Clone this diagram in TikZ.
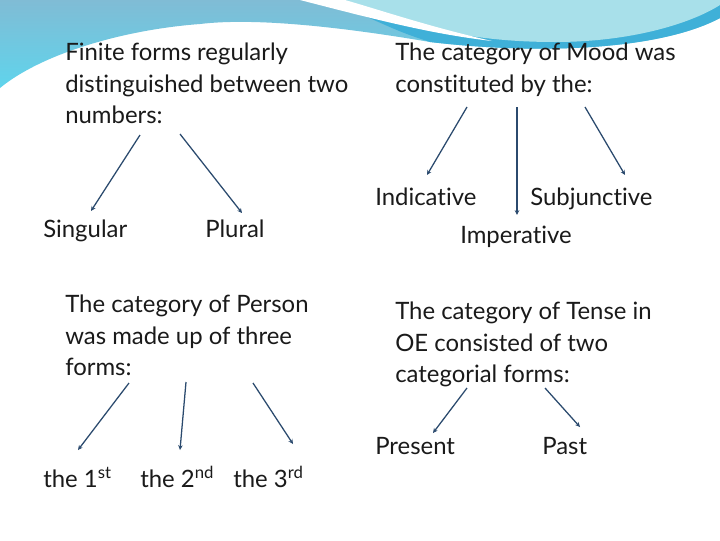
\documentclass[tikz,border=0pt]{standalone}
\usepackage{fontspec}
\setmainfont{Lato}[Ligatures={NoCommon}]
\usepackage{tikz}
\usetikzlibrary{arrows.meta}

\definecolor{inkgray}{HTML}{1A1A1A}
\definecolor{arrowblue}{HTML}{2B4A6E}
\definecolor{skytop}{HTML}{80BCD5}
\definecolor{skybottom}{HTML}{5FD4EC}
\definecolor{skyband}{HTML}{3FB0D8}
\definecolor{skylens}{HTML}{A8E0EA}

\begin{document}
\begin{tikzpicture}[x=0.025cm, y=-0.025cm,
  % text blocks and labels
  block/.style={anchor=north west, inner sep=0pt, align=left, text=inkgray,
    font=\fontsize{17}{22.4}\selectfont},
  label/.style={anchor=base west, inner sep=0pt, text=inkgray,
    font=\fontsize{17}{22.4}\selectfont},
  arr/.style={draw=arrowblue, line width=0.9pt, -{Stealth[length=3.4pt,width=3.2pt]}}
  ]
  \useasboundingbox (0,0) rectangle (720,540);
  \fill[white] (0,0) rectangle (720,540);

  % --- header swoosh ---
  \shade[top color=skytop, bottom color=skybottom]
    (0,0) -- (720,0) -- (720,18) .. controls (660,50) and (540,55) .. (430,42)
    .. controls (330,25) and (250,18) .. (200,24)
    .. controls (120,30) and (40,55) .. (0,88) -- cycle;
  \fill[skyband]
    (330,0) -- (720,0) -- (720,18) .. controls (660,50) and (540,55) .. (430,42)
    .. controls (400,32) .. (330,0);
  \fill[skylens]
    (330,0) .. controls (420,30) and (480,42) .. (555,42)
    .. controls (630,42) and (690,24) .. (720,5) -- (720,0) -- cycle;
  \fill[white]
    (300,0) .. controls (370,18) and (430,34) .. (492,41)
    .. controls (430,27) and (380,10) .. (345,0) -- cycle;

  % --- number ---
  \node[block] (finite) at (65,43) {Finite forms regularly\\distinguished between two\\numbers:};
  \node[label] (sing) at (43,237) {Singular};
  \node[label] (plur) at (205,237) {Plural};
  \coordinate (n1) at (140,135);
  \coordinate (n2) at (180,134);
  \draw[arr] (n1) -- ([shift={(48,-26)}]sing.base west);
  \draw[arr] (n2) -- ([shift={(37,-24)}]plur.base west);

  % --- mood ---
  \node[block] (mood) at (395,43) {The category of Mood was\\constituted by the:};
  \node[label] (indic) at (375,205) {Indicative};
  \node[label] (subj) at (530,205) {Subjunctive};
  \node[label] (imper) at (460,243) {Imperative};
  \coordinate (m1) at (467,107);
  \coordinate (m2) at (517,107);
  \coordinate (m3) at (585,107);
  \draw[arr] (m1) -- ([shift={(52,-30)}]indic.base west);
  \draw[arr] (m2) -- ([shift={(57,-28)}]imper.base west);
  \draw[arr] (m3) -- ([shift={(95,-30)}]subj.base west);

  % --- person ---
  \node[block] (person) at (65,295) {The category of Person\\was made up of three\\forms:};
  \node[label] (first) at (43,487) {the 1\textsuperscript{st}};
  \node[label] (second) at (140,487) {the 2\textsuperscript{nd}};
  \node[label] (third) at (233,487) {the 3\textsuperscript{rd}};
  \coordinate (p1) at (129,383);
  \coordinate (p2) at (186,382);
  \coordinate (p3) at (253,383);
  \draw[arr] (p1) -- ([shift={(35,-37)}]first.base west);
  \draw[arr] (p2) -- ([shift={(40,-37)}]second.base west);
  \draw[arr] (p3) -- ([shift={(60,-43)}]third.base west);

  % --- tense ---
  \node[block] (tense) at (395,302) {The category of Tense in\\OE consisted of two\\categorial forms:};
  \node[label] (pres) at (375,454) {Present};
  \node[label] (past) at (542,454) {Past};
  \coordinate (t1) at (467,388);
  \coordinate (t2) at (545,388);
  \draw[arr] (t1) -- ([shift={(58,-21)}]pres.base west);
  \draw[arr] (t2) -- ([shift={(38,-27)}]past.base west);
\end{tikzpicture}
\end{document}
